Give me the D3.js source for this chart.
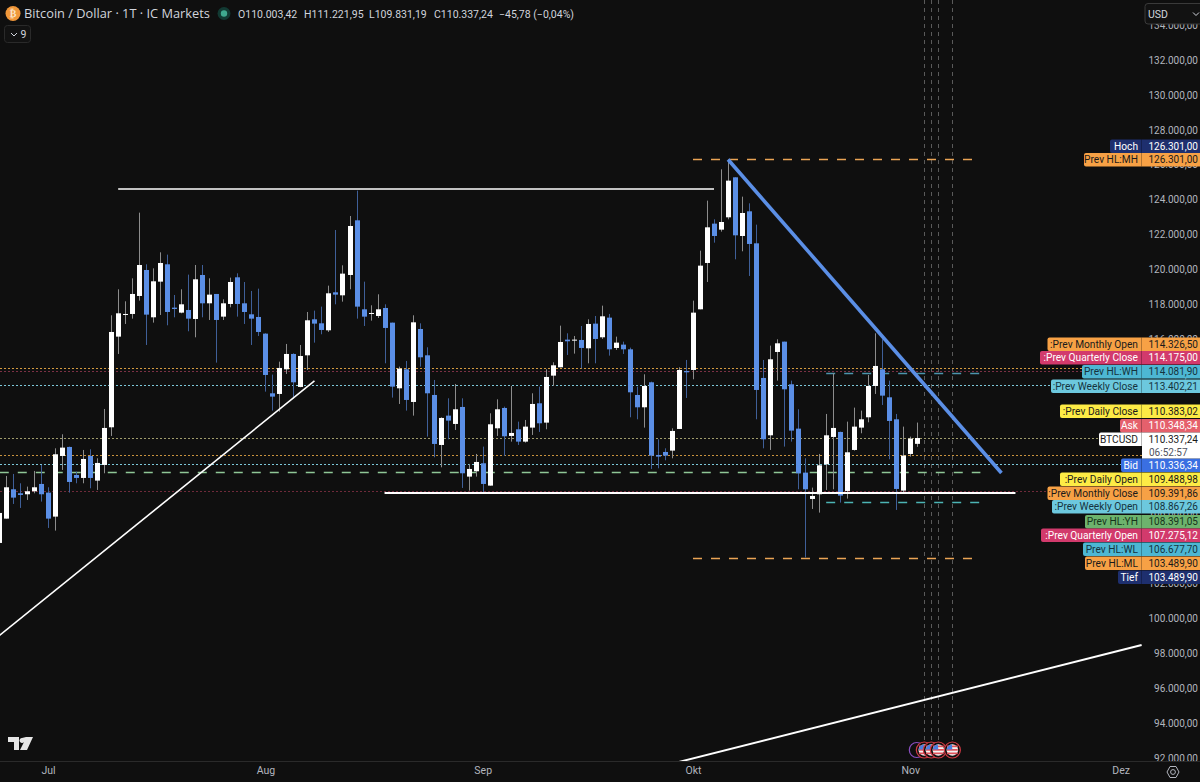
<!DOCTYPE html>
<html>
<head>
<meta charset="utf-8">
<script src="https://cdn.jsdelivr.net/npm/d3@7"></script>
<style>
  html, body { margin: 0; padding: 0; background: #0f0f0f; overflow: hidden; }
  svg { display: block; font-family: Roboto, "Noto Sans", sans-serif; }
</style>
</head>
<body>
<div id="chart"></div>
<script>
// daily candles, first one is 24 Jun
var firstDay = "2025-06-24";
var opens = [
  104324,105718,107399,107170,107113,107285,107705,107208,105833,109309,
  109825,108220,108049,109309,107896,108793,110952,116147,117388,117446,
  118477,119967,117255,119298,120292,117809,117522,117675,117159,119680,
  118057,118592,117293,118019,119547,118057,117427,117274,116319,112900,
  112862,114275,115154,113263,115077,117140,116911,116510,118687,118515,
  119680,122813,117713,117465,117331,117790,116949,113186,114275,112403,
  116586,115077,112804,109939,111620,111143,112117,108125,108431,108889,
  107609,110894,112060,110455,110837,110130,110933,112327,111219,113912,
  114390,115975,115918,115956,115478,116892,116109,117236,115498,115689,
  115421,112804,112098,113530,109366,109538,109615,110856,114180,114237,
  117713,120368,122622,122278,122985,125277,121915,123329,121495,113779,
  110493,115268,115860,113416,110875,108354,106845,107113,108832,110398,
  110684,107304,109653,110933,111525,113320,114275,112671,111410,107323,
  109424,110003];
var closes = [
  106043,107514,106922,107074,107285,107514,107113,105718,109405,109787,
  107819,108049,109137,108049,108908,110914,116414,117484,117446,118592,
  120253,117408,119318,120368,117560,117732,118000,117178,119432,118057,
  118554,117102,118057,119279,118019,117560,117178,116414,113950,112709,
  114352,115154,113530,115039,117083,116892,116529,118630,118554,119757,
  122488,117866,117293,117503,117713,116644,113282,114313,112518,116968,
  114963,112900,109997,111487,111334,111983,108316,108564,108965,107705,
  111124,111983,110436,110627,110130,110990,112289,111181,113836,114504,
  115841,115880,115975,115498,116873,116013,117312,115421,115803,115421,
  112957,112098,113320,109328,109271,109328,110742,114237,114103,117522,
  120215,122412,121915,122717,125086,121953,123233,121457,113091,110264,
  114848,115765,113129,110761,108316,107399,107017,108774,110493,110914,
  107037,109519,110990,111410,113320,114466,112766,111315,107418,109328,
  110302,110337];
var highs = [
  106043,108163,108278,107743,107552,108450,108793,107514,109748,110551,
  109844,108411,109653,109691,109175,112002,117369,118859,118172,119489,
  123252,120292,120062,120979,120846,118534,118859,119700,120253,120253,
  119489,118592,118286,119528,119776,119279,118764,118897,116338,113970,
  114714,115727,115192,115669,117560,117637,117866,119069,122259,120234,
  123061,124513,119298,117942,118573,118000,116949,114428,114753,117369,
  116911,115536,113664,111525,112613,113435,112613,108851,109424,109844,
  111754,112556,112136,113320,111276,111372,112900,113282,114275,114676,
  116777,116338,116185,116758,117140,117331,117923,117446,116147,115860,
  115517,113282,113989,113568,110264,109748,110894,114390,114810,118210,
  121075,123940,122870,125735,126301,125277,124169,123787,122565,114810,
  115631,115994,115860,113626,111983,109175,107495,109424,111716,114046,
  110703,111276,112079,111907,113950,116338,115994,113626,111716,110990,
  110417,111222];
var lows = [
  104324,105718,106559,106330,106788,107170,106692,105184,105031,108507,
  107208,107743,107743,107456,107361,108316,110455,115154,116873,117178,
  118210,115669,116949,117388,116796,117255,117484,116453,116109,117255,
  117102,114657,117102,117828,117293,116873,115669,116185,112995,111907,
  111849,114008,112613,113244,114237,115803,116281,116414,118000,118152,
  118859,117178,116758,117064,117217,114619,112652,112289,111907,111620,
  114428,110417,109233,108660,110264,110799,107476,107323,108125,107246,
  107609,110455,109309,110130,109939,110073,110512,110684,110837,113320,
  114390,115096,115173,114332,114619,114619,116013,115058,115383,115154,
  111525,111410,110933,108564,108602,109061,109175,110856,112633,113702,
  117713,119279,121533,122163,122870,120578,121037,119623,111410,109748,
  109653,113626,109844,110130,107399,103490,106272,106062,107361,107399,
  106635,106864,109615,110608,111238,112862,112231,109118,106215,107208,
  109271,109831];

var priceTicks = d3.range(92000, 136000, 2000);
var monthDays = ["2025-07-01","2025-08-01","2025-09-01","2025-10-01","2025-11-01","2025-12-01"];
var monthNames = ["Jul","Aug","Sep","Okt","Nov","Dez"];

// horizontal levels that span the whole pane
var dottedPrices = [114326.5, 114175, 113402.21, 110337.24, 109391.86, 108867.26, 107275.12];
// prev high/low levels: price, from, to
var dashPrices = [126301, 114081.9, 108391.05, 106677.7, 103489.9];
var dashFrom = ["2025-10-01","2025-10-20","2025-06-01","2025-10-20","2025-10-01"];
var dashTo = ["2025-11-10","2025-11-11","2025-11-11","2025-11-11","2025-11-10"];

// drawn trend lines: day and price at each end
var lineFromDay = ["2025-06-24","2025-07-11","2025-08-18","2025-09-29","2025-10-06"];
var lineFromPrice = [99000, 124608, 107189, 91776, 126301];
var lineToDay = ["2025-08-08","2025-10-04","2025-11-16","2025-12-04","2025-11-14"];
var lineToPrice = [113607, 124608, 107189, 98480, 108335];

var eventDays = ["2025-11-03","2025-11-04","2025-11-05","2025-11-07"];

// price tags on the right
var tagNames = ["Hoch","Prev HL:MH",":Prev Monthly Open",":Prev Quarterly Close","Prev HL:WH",":Prev Weekly Close",
  ":Prev Daily Close","Ask","BTCUSD","Bid",":Prev Daily Open",":Prev Monthly Close",":Prev Weekly Open",
  "Prev HL:YH",":Prev Quarterly Open","Prev HL:WL","Prev HL:ML","Tief"];
var tagValues = [126301, 126301, 114326.5, 114175, 114081.9, 113402.21,
  110383.02, 110348.34, 110337.24, 110336.34, 109488.98, 109391.86, 108867.26,
  108391.05, 107275.12, 106677.7, 103489.9, 103489.9];

// ---- layout and colours ----
var width = 1200, height = 782, axisBottom = 761, tagSplit = 1142;
var dayParse = d3.utcParse("%Y-%m-%d");
var de = d3.formatLocale({decimal: ",", thousands: ".", grouping: [3], currency: ["", ""]});
var fmt = de.format(",.2f");

var x = d3.scaleUtc().domain([dayParse(firstDay), dayParse("2025-12-01")]).range([-1, 1120.6]);
var y = d3.scaleLinear().domain([92000, 132000]).range([758, 60]);

var upColor = "#ffffff", downColor = "#5b8fe6", upWick = "#8c8c8c", downWick = "#3f5f98";
var dottedColors = ["#d39a40", "#7a3044", "#7cc8da", "#a09c6c", "#c8923e", "#7cc8da", "#6e2a3a"];
var dashColors = ["#eaa455", "#4c94ac", "#8fc796", "#4cb4b4", "#eaa455"];
var lineColors = ["#ffffff", "#ffffff", "#ffffff", "#ffffff", "#5b8fe6"];
var lineWidths = [1.6, 1.6, 2, 2, 3.6];

var tagTops = [139.5, 153, 337.5, 351, 365, 379.5, 404.5, 419, 432.5, 458.5, 472.5, 486.5, 500, 515, 528.5, 542.5, 556.5, 570.5];
var tagLefts = [1110, 1084, 1047.5, 1040, 1082, 1051, 1060, 1120, 1099, 1121, 1060, 1047.5, 1052, 1085, 1041, 1083, 1085, 1118];
var tagFills = ["#1e2f6e","#f7a145","#f7a145","#d23a6c","#4db7d3","#6cc8de","#fdeb45","#e5606c","#ffffff","#3a6fe2",
  "#fdeb45","#f7a145","#6cc8de","#6db36d","#d23a6c","#4db7d3","#f7a145","#1e2f6e"];
var tagInk = ["#ffffff","#1a1a1a","#1a1a1a","#ffffff","#15333d","#15333d","#1a1a1a","#ffffff","#1a1a1a","#ffffff",
  "#1a1a1a","#1a1a1a","#15333d","#15331a","#ffffff","#15333d","#1a1a1a","#ffffff"];
var tagHeight = 13.4;

var svg = d3.select("#chart").append("svg").attr("width", width).attr("height", height);
svg.append("rect").attr("width", width).attr("height", height).attr("fill", "#0f0f0f");

var defs = svg.append("defs");
defs.append("clipPath").attr("id", "pane").append("rect").attr("width", width).attr("height", axisBottom);

// price axis, behind everything that overlaps it
var yAxis = d3.axisRight(y).tickValues(priceTicks).tickSize(0).tickPadding(0).tickFormat(fmt);
var yG = svg.append("g").attr("clip-path", "url(#pane)").append("g")
  .attr("transform", "translate(1198,0)").call(yAxis);
yG.select(".domain").remove();
yG.selectAll("text").attr("fill", "#b2b5be").attr("font-size", 10).attr("font-family", "Roboto").attr("text-anchor", "end");

// time axis
var xAxis = d3.axisBottom(x).tickValues(monthDays.map(dayParse)).tickSize(0).tickPadding(0)
  .tickFormat(function(d, i) { return monthNames[i]; });
var xG = svg.append("g").attr("transform", "translate(0," + (axisBottom + 6) + ")").call(xAxis);
xG.select(".domain").remove();
xG.selectAll("text").attr("fill", "#b2b5be").attr("font-size", 10.5).attr("font-family", "Roboto");
svg.append("line").attr("x1", 0).attr("x2", width).attr("y1", axisBottom + .5).attr("y2", axisBottom + .5)
  .attr("stroke", "#2a2a2a");

var pane = svg.append("g").attr("clip-path", "url(#pane)");

// events, vertical dashes
pane.selectAll("line.ev").data(eventDays).enter().append("line").attr("class", "ev")
  .attr("x1", function(d) { return Math.round(x(dayParse(d))) + .5; })
  .attr("x2", function(d) { return Math.round(x(dayParse(d))) + .5; })
  .attr("y1", 0).attr("y2", 744)
  .attr("stroke", "#5a5a5a").attr("stroke-dasharray", "4,4");

// dotted levels
pane.selectAll("line.dot").data(dottedPrices).enter().append("line").attr("class", "dot")
  .attr("x1", 0).attr("x2", tagSplit)
  .attr("y1", function(d) { return Math.round(y(d)) + .5; })
  .attr("y2", function(d) { return Math.round(y(d)) + .5; })
  .attr("stroke", function(d, i) { return dottedColors[i]; })
  .attr("stroke-width", 1.2)
  .attr("stroke-dasharray", "2,2");

// dashed levels
pane.selectAll("line.dash").data(dashPrices).enter().append("line").attr("class", "dash")
  .attr("x1", function(d, i) { return x(dayParse(dashFrom[i])); })
  .attr("x2", function(d, i) { return x(dayParse(dashTo[i])); })
  .attr("y1", function(d) { return Math.round(y(d)) + .5; })
  .attr("y2", function(d) { return Math.round(y(d)) + .5; })
  .attr("stroke", function(d, i) { return dashColors[i]; })
  .attr("stroke-width", 1.4)
  .attr("stroke-dasharray", "9,9");

// candles
var days = opens.map(function(d, i) { return d3.utcDay.offset(dayParse(firstDay), i); });
var candle = pane.selectAll("g.candle").data(opens).enter().append("g").attr("class", "candle");
candle.append("line")
  .attr("x1", function(d, i) { return Math.round(x(days[i])) + .5; })
  .attr("x2", function(d, i) { return Math.round(x(days[i])) + .5; })
  .attr("y1", function(d, i) { return y(highs[i]); })
  .attr("y2", function(d, i) { return y(lows[i]); })
  .attr("stroke", function(d, i) { return closes[i] >= d ? upWick : downWick; });
candle.append("rect")
  .attr("x", function(d, i) { return Math.round(x(days[i])) - 2; })
  .attr("width", 5)
  .attr("y", function(d, i) { return y(Math.max(d, closes[i])); })
  .attr("height", function(d, i) { return Math.max(1, Math.abs(y(d) - y(closes[i]))); })
  .attr("fill", function(d, i) { return closes[i] >= d ? upColor : downColor; });

// trend lines
pane.selectAll("line.trend").data(lineFromDay).enter().append("line").attr("class", "trend")
  .attr("x1", function(d) { return x(dayParse(d)); })
  .attr("y1", function(d, i) { return y(lineFromPrice[i]); })
  .attr("x2", function(d, i) { return x(dayParse(lineToDay[i])); })
  .attr("y2", function(d, i) { return y(lineToPrice[i]); })
  .attr("stroke", function(d, i) { return lineColors[i]; })
  .attr("stroke-width", function(d, i) { return lineWidths[i]; });

// event icons on the time scale
var ringX = x(dayParse("2025-11-02")) - .5;
pane.append("circle").attr("cx", ringX).attr("cy", 750).attr("r", 7.5)
  .attr("fill", "none").attr("stroke", "#8a4fc0").attr("stroke-width", 1.2);
var icon = pane.selectAll("g.icon").data(eventDays).enter().append("g").attr("class", "icon")
  .attr("transform", function(d) { return "translate(" + x(dayParse(d)) + ",750)"; });
icon.append("circle").attr("r", 8).attr("fill", "#0f0f0f").attr("stroke", "#d23a45").attr("stroke-width", 1.2);
icon.append("circle").attr("r", 5.8).attr("fill", "#f2f2f2");
icon.selectAll("rect.st").data([-4.5, -1, 2.5]).enter().append("rect").attr("class", "st")
  .attr("x", -5.4).attr("width", 10.8).attr("y", function(d) { return d; }).attr("height", 1.7).attr("fill", "#e0525a");
icon.append("path").attr("d", "M-5.6,-0.5 A5.8,5.8 0 0 1 -0.5,-5.6 L0,-0.5 Z").attr("fill", "#4a7fe0");

// price tags
var tag = svg.selectAll("g.tag").data(tagNames).enter().append("g").attr("class", "tag")
  .attr("transform", function(d, i) { return "translate(0," + tagTops[i] + ")"; });
tag.append("path")
  .attr("d", function(d, i) {
    var l = tagLefts[i], r = 2;
    return "M" + (l + r) + ",0H" + width + "V" + tagHeight + "H" + (l + r) +
      "Q" + l + "," + tagHeight + " " + l + "," + (tagHeight - r) + "V" + r + "Q" + l + ",0 " + (l + r) + ",0Z";
  })
  .attr("fill", function(d, i) { return tagFills[i]; });
tag.append("line").attr("x1", tagSplit - .5).attr("x2", tagSplit - .5).attr("y1", 0).attr("y2", tagHeight)
  .attr("stroke", "#000").attr("stroke-opacity", .28);
tag.append("text").attr("x", tagSplit - 4).attr("y", 10.2).attr("text-anchor", "end").attr("font-size", 10.2)
  .attr("fill", function(d, i) { return tagInk[i]; }).text(function(d) { return d; });
tag.append("text").attr("x", 1198).attr("y", 10.2).attr("text-anchor", "end").attr("font-size", 10)
  .attr("fill", function(d, i) { return tagInk[i]; }).text(function(d, i) { return fmt(tagValues[i]); });

// countdown under the BTCUSD tag
svg.append("rect").attr("x", tagSplit).attr("y", 445.5).attr("width", width - tagSplit).attr("height", 13).attr("fill", "#ffffff");
svg.append("text").attr("x", 1149).attr("y", 455.6).attr("font-size", 10).attr("fill", "#50535e").text("06:52:57");

// header
var ink = "#d1d4dc";
svg.append("circle").attr("cx", 13).attr("cy", 13.5).attr("r", 7.5).attr("fill", "#f0973a");
svg.append("text").attr("x", 13).attr("y", 17).attr("text-anchor", "middle").attr("font-size", 10).attr("font-weight", 700)
  .attr("fill", "#fbe3c4").attr("font-family", "DejaVu Sans").text("₿");
svg.append("text").attr("x", 24).attr("y", 18).attr("font-size", 12.8).attr("fill", ink).attr("font-family", "Open Sans")
  .text("Bitcoin / Dollar · 1T · IC Markets");
svg.append("circle").attr("cx", 224).attr("cy", 13.5).attr("r", 6.5).attr("fill", "#123a33");
svg.append("circle").attr("cx", 224).attr("cy", 13.5).attr("r", 3.2).attr("fill", "#3fa98f");

var ohlcNames = ["O", "H", "L", "C"];
var ohlcValues = [110003.42, 111221.95, 109831.19, 110337.24];
var ohlcLefts = [238, 304, 369, 434];
svg.selectAll("text.ohlc").data(ohlcNames).enter().append("text").attr("class", "ohlc")
  .attr("x", function(d, i) { return ohlcLefts[i]; }).attr("y", 17.5).attr("font-size", 10.5).attr("fill", ink)
  .text(function(d, i) { return d + fmt(ohlcValues[i]); });
svg.append("text").attr("x", 499).attr("y", 17.5).attr("font-size", 10.5).attr("fill", ink).text("−45,78 (−0,04%)");

svg.append("rect").attr("x", 4.5).attr("y", 25.5).attr("width", 26).attr("height", 17).attr("rx", 3)
  .attr("fill", "#121212").attr("stroke", "#2a2a2a");
svg.append("path").attr("d", "M11,33 L14,36 L17,33").attr("fill", "none").attr("stroke", ink);
svg.append("text").attr("x", 20.5).attr("y", 38).attr("font-size", 10.5).attr("fill", ink).text("9");

// currency box
svg.append("rect").attr("x", 1145).attr("y", 3.5).attr("width", 60).attr("height", 20.5).attr("rx", 3)
  .attr("fill", "#121212").attr("stroke", "#3a3a3a");
svg.append("text").attr("x", 1148).attr("y", 18).attr("font-size", 10.5).attr("fill", ink).text("USD");
svg.append("path").attr("d", "M1193,12.5 L1196,15.5 L1199,12.5").attr("fill", "none").attr("stroke", ink);

// logo and settings
svg.append("path").attr("d", "M8,737 H19 V750 H14 V742 H8 Z M26,737 H33 L27,750 H20 L24,742 A2.5,2.5 0 1 1 22,738 Z").attr("fill", "#e6e6e6");
svg.append("path").attr("d", "M1167,772 L1170,766.5 H1176 L1179,772 L1176,777.5 H1170 Z").attr("fill", "none").attr("stroke", "#b2b5be");
svg.append("circle").attr("cx", 1173).attr("cy", 772).attr("r", 2.4).attr("fill", "none").attr("stroke", "#b2b5be");
</script>
</body>
</html>
